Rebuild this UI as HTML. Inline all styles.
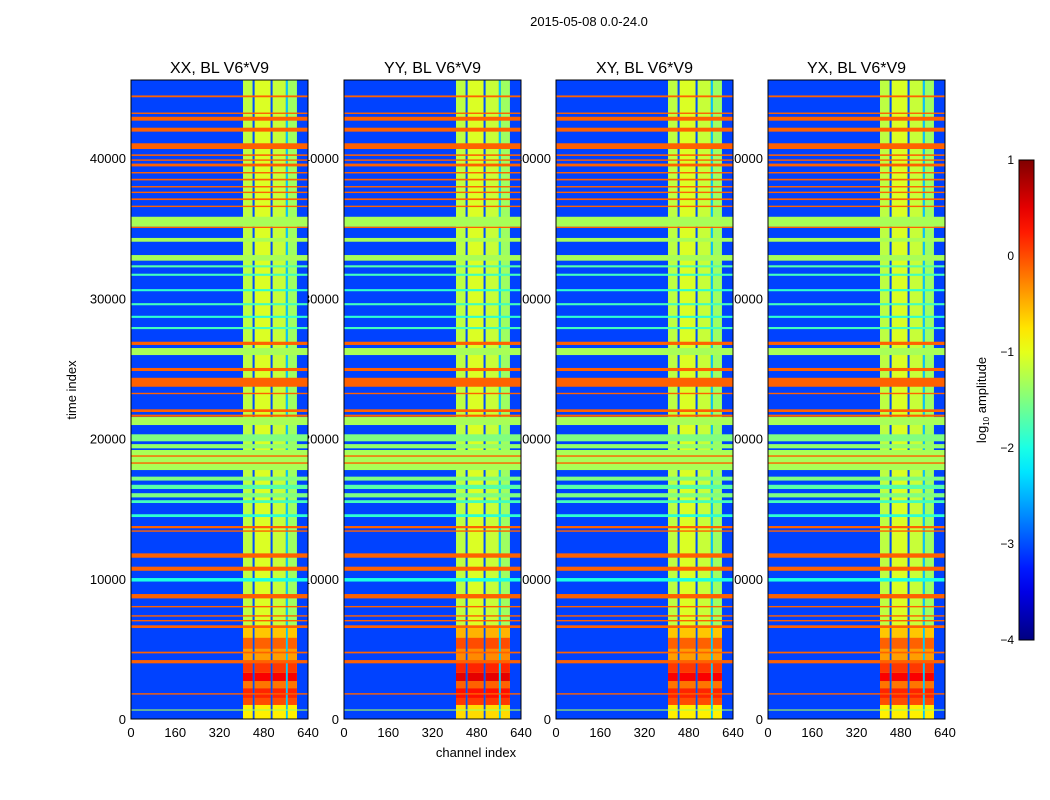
<!DOCTYPE html>
<html><head><meta charset="utf-8"><style>
body{margin:0;background:#fff;}
svg{display:block;font-family:"Liberation Sans",sans-serif;}
</style></head><body>
<svg id="fig" width="1050" height="800" viewBox="0 0 1050 800">
<text x="589" y="26" font-size="13" text-anchor="middle">2015-05-08 0.0-24.0</text>
<g id="labels"></g>
<g id="panels"></g>
<g id="cbar"></g>
<text x="86" y="400" font-size="13" text-anchor="middle" transform="rotate(-90 76 400)">time index</text>
<text x="476" y="757" font-size="13" text-anchor="middle">channel index</text>
<text x="986" y="400" font-size="13" text-anchor="middle" transform="rotate(-90 986 400)">log<tspan font-size="8" dy="3">10</tspan><tspan dy="-3"> amplitude</tspan></text>
</svg>
<script>
// ---- data ----
const panelTitles = ["XX, BL V6*V9","YY, BL V6*V9","XY, BL V6*V9","YX, BL V6*V9"];
const xTicks = [0,160,320,480,640];
const yTicks = [0,10000,20000,30000,40000];
const cbarTicks = [-4,-3,-2,-1,0,1];
const backgroundLevel = -3.05;
// horizontal stripes: start time, end time, log10 amplitude
const stripeStart = [44330,43140,42660,41880,40640,40150,39800,39400,38900,38400,37900,37500,37000,36500,35100,35010,34030,32680,32200,31600,30500,29500,28600,27800,26670,25950,24810,23690,23160,21890,21550,20960,19800,19300,17750,18700,18200,17000,16400,15800,15400,14400,13600,13350,11500,10570,9800,8600,7960,7300,6960,6490,4680,3970,1740,600];
const stripeEnd   = [44460,43240,42940,42160,41050,40260,39900,39600,39000,38520,38000,37600,37120,36600,35810,35100,34300,33080,32350,31750,30650,29650,28750,27950,26900,26450,25030,24330,23260,22080,21700,21530,20300,19600,19180,18800,18300,17280,16700,16100,15600,14600,13760,13450,11810,10860,10050,8910,8060,7400,7060,6680,4800,4200,1840,680];
const stripeLevel = [-0.1,-0.1,-0.1,-0.1,-0.1,-0.1,-0.1,-0.1,-0.1,-0.1,-0.1,-0.1,-0.1,-0.1,-1.3,-0.1,-1.3,-1.3,-1.7,-1.8,-1.9,-1.8,-1.9,-1.8,-0.1,-1.3,-0.1,-0.1,-0.1,-0.1,-0.1,-1.3,-1.5,-1.4,-1.3,-0.1,-0.1,-1.5,-1.7,-1.5,-1.8,-1.9,-0.1,-0.1,-0.1,-0.1,-2.0,-0.1,-0.1,-0.1,-0.1,-0.1,-0.1,-0.1,-0.1,-1.3];
// clean-band columns (channel ranges) and their level
const bandStart = [405,440,447,505,512,560,567];
const bandEnd   = [440,447,505,512,560,567,600];
const bandLevel = [-1.2,-3.0,-1.05,-3.0,-1.15,-2.4,-1.35];
// low-time region inside the band: start time, end time, level
const lowStart = [0,1000,1500,2200,2700,3300,4000,5000,5800];
const lowEnd   = [1000,1500,2200,2700,3300,4000,5000,5800,6500];
const lowLevel = [-0.8,0.0,0.2,-0.2,0.4,0.1,-0.4,-0.1,-0.6];

// ---- geometry ----
const panelX = [131,344,556,768], panelW = 177;
const plotTop = 80, plotBottom = 719;
const sx = (p,ch)=>panelX[p] + ch/640*panelW;
const sy = t => plotBottom - t*(561/40000);
function jet(v){
  let x=(v+4)/5; x=Math.max(0,Math.min(1,x));
  const c=f=>Math.round(255*Math.max(0,Math.min(1,f)));
  const r=c(1.5-Math.abs(4*x-3)), g=c(1.5-Math.abs(4*x-2)), b=c(1.5-Math.abs(4*x-1));
  return `rgb(${r},${g},${b})`;
}
const NS="http://www.w3.org/2000/svg";
function mk(tag,attrs,parent){const e=document.createElementNS(NS,tag);for(const k in attrs)e.setAttribute(k,attrs[k]);parent.appendChild(e);return e;}
const labels=document.getElementById('labels'), panels=document.getElementById('panels'), cbar=document.getElementById('cbar');

for(let p=0;p<4;p++){
  const x0=panelX[p];
  yTicks.forEach(t=>{
    const tx=mk('text',{x:x0-5,y:sy(t)+5,'font-size':13,'text-anchor':'end'},labels);
    
    
    tx.textContent=t;
  });
  xTicks.forEach(c=>{
    const tx=mk('text',{x:sx(p,c),y:737,'font-size':13,'text-anchor':'middle'},labels);
    
    
    tx.textContent=c;
  });
  const g=mk('g',{},panels);
  
  
  const bg=mk('rect',{x:x0,y:plotTop,width:panelW,height:plotBottom-plotTop,fill:jet(backgroundLevel)},g);
  
  
  for(let i=0;i<bandStart.length;i++){
    const r=mk('rect',{x:sx(p,bandStart[i]),y:plotTop,width:sx(p,bandEnd[i])-sx(p,bandStart[i]),height:plotBottom-plotTop,fill:jet(bandLevel[i])},g);
    
    
  }
  for(let i=0;i<lowStart.length;i++){
    for(let j=0;j<bandStart.length;j++){
      if(bandLevel[j]<-2)continue;
      const r=mk('rect',{x:sx(p,bandStart[j]),y:sy(lowEnd[i]),width:sx(p,bandEnd[j])-sx(p,bandStart[j]),height:sy(lowStart[i])-sy(lowEnd[i]),fill:jet(lowLevel[i]+(p==1?0.1:0))},g);
      
      
    }
  }
  for(let i=0;i<stripeStart.length;i++){
    const y1=sy(stripeEnd[i]), h=Math.max(1,sy(stripeStart[i])-y1);
    const r=mk('rect',{x:x0,y:y1,width:panelW,height:h,fill:jet(stripeLevel[i])},g);
    
    
  }
  const fr=mk('rect',{x:x0,y:plotTop,width:panelW,height:plotBottom-plotTop,fill:'none',stroke:'#000','stroke-width':1},g);
  
  
  const tt=mk('text',{x:x0+panelW/2,y:73,'font-size':16,'text-anchor':'middle'},g);
  
  
  tt.textContent=panelTitles[p];
}
// colorbar
const cbTop=160, cbBot=640, cbX=1019, cbW=15;
const defs=mk('defs',{},cbar);
const grad=mk('linearGradient',{id:'jetg',x1:0,y1:1,x2:0,y2:0},defs);
for(let k=0;k<=20;k++){mk('stop',{offset:k/20,'stop-color':jet(-4+5*k/20)},grad);}
const cb=mk('rect',{x:cbX,y:cbTop,width:cbW,height:cbBot-cbTop,fill:'url(#jetg)',stroke:'#000','stroke-width':1},cbar);


cbarTicks.forEach(v=>{
  const y=cbBot-(v+4)/5*(cbBot-cbTop);
  const t=mk('text',{x:1014,y:y+4,'font-size':12,'text-anchor':'end'},cbar);
  
  
  t.textContent=v<0?'\u2212'+(-v):String(v);
});
</script>
</body></html>
